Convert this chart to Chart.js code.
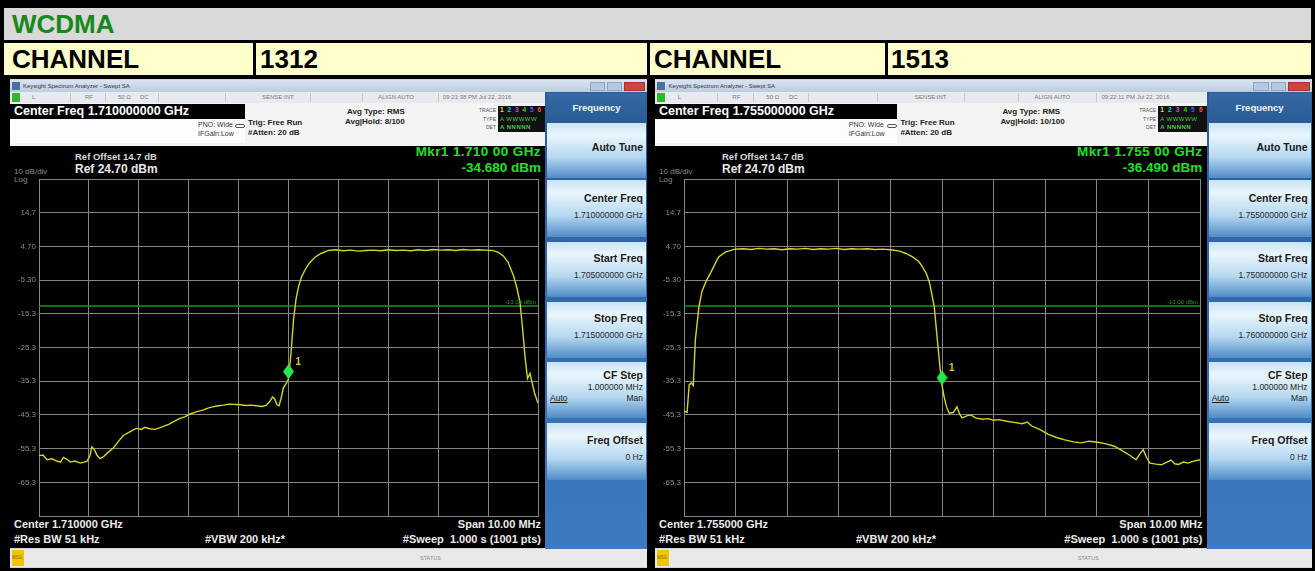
<!DOCTYPE html>
<html>
<head>
<meta charset="utf-8">
<title>WCDMA</title>
<script src="https://cdn.jsdelivr.net/npm/chart.js@4"></script>
<style>
  body { margin:0; width:1315px; height:571px; background:#000; position:relative; overflow:hidden;
         font-family:"Liberation Sans", Arial, sans-serif; }
  .box { position:absolute; white-space:nowrap; box-sizing:border-box; }
  .big { font-weight:bold; font-size:26px; line-height:32px; height:32px; color:#000; }
  canvas { position:absolute; }
</style>
</head>
<body>
<div class="box big" style="left:4px;top:8px;width:1307px;background:#d9d9d9;color:#16881b;padding-left:8px;">WCDMA</div>
<div class="box big" style="left:4px;top:43px;width:249px;background:#ffffcc;padding-left:8px;">CHANNEL</div>
<div class="box big" style="left:256px;top:43px;width:391px;background:#ffffcc;padding-left:4px;">1312</div>
<div class="box big" style="left:650px;top:43px;width:235px;background:#ffffcc;padding-left:4px;">CHANNEL</div>
<div class="box big" style="left:888px;top:43px;width:423px;background:#ffffcc;padding-left:3px;">1513</div>

<script>
// measured trace, channel 1312 (MHz / dBm)
const ch1312Freq = [1705.00, 1705.08, 1705.16, 1705.26, 1705.34, 1705.43, 1705.49, 1705.55, 1705.63, 1705.72,
  1705.83, 1705.96, 1706.02, 1706.06, 1706.11, 1706.16, 1706.22, 1706.30, 1706.40, 1706.49,
  1706.60, 1706.69, 1706.80, 1706.88, 1706.95, 1707.05, 1707.12, 1707.22, 1707.32, 1707.40,
  1707.48, 1707.60, 1707.70, 1707.81, 1707.92, 1708.02, 1708.15, 1708.28, 1708.40, 1708.48,
  1708.60, 1708.70, 1708.81, 1708.95, 1709.05, 1709.14, 1709.25, 1709.35, 1709.47, 1709.55,
  1709.62, 1709.68, 1709.72, 1709.77, 1709.81, 1709.85, 1709.90, 1709.95, 1710.00, 1710.05,
  1710.10, 1710.15, 1710.20, 1710.26, 1710.33, 1710.42, 1710.53, 1710.65, 1710.80, 1710.95,
  1711.10, 1711.25, 1711.40, 1711.55, 1711.70, 1711.85, 1712.00, 1712.15, 1712.30, 1712.45,
  1712.60, 1712.75, 1712.90, 1713.05, 1713.20, 1713.35, 1713.50, 1713.65, 1713.80, 1713.95,
  1714.08, 1714.20, 1714.31, 1714.40, 1714.51, 1714.58, 1714.64, 1714.69, 1714.74, 1714.79,
  1714.84, 1714.87, 1714.93, 1715.00];
const ch1312Level = [-57.4, -57.2, -58.6, -58.3, -58.9, -59.3, -57.9, -58.4, -59.3, -59.0,
  -59.6, -59.1, -57.5, -54.8, -55.6, -57.2, -58.3, -57.6, -56.2, -55.1,
  -53.0, -51.4, -50.5, -49.8, -49.3, -49.6, -49.0, -49.4, -49.6, -49.2,
  -48.8, -48.1, -47.3, -46.4, -45.9, -45.1, -44.4, -43.9, -43.2, -42.9,
  -42.6, -42.4, -42.1, -42.2, -42.3, -42.5, -42.4, -42.6, -42.8, -42.5,
  -41.4, -40.0, -40.5, -42.3, -42.6, -40.5, -37.2, -36.0, -34.68, -27.0,
  -17.2, -11.0, -7.3, -4.4, -2.3, -0.2, 1.5, 2.6, 3.5, 3.7,
  3.4, 3.6, 3.3, 3.5, 3.6, 3.4, 3.7, 3.5, 3.6, 3.4,
  3.7, 3.5, 3.8, 3.6, 3.7, 3.5, 3.8, 3.6, 3.7, 3.6,
  3.5, 3.0, 1.8, 0.0, -4.0, -7.8, -12.0, -19.5, -28.0, -34.5,
  -33.0, -35.0, -38.8, -41.8];

// measured trace, channel 1513 (MHz / dBm)
const ch1513Freq = [1750.00, 1750.06, 1750.10, 1750.14, 1750.18, 1750.22, 1750.29, 1750.35, 1750.43, 1750.52,
  1750.67, 1750.80, 1750.99, 1751.15, 1751.30, 1751.45, 1751.60, 1751.75, 1751.90, 1752.05,
  1752.20, 1752.35, 1752.50, 1752.65, 1752.80, 1752.95, 1753.10, 1753.25, 1753.40, 1753.55,
  1753.70, 1753.85, 1754.00, 1754.18, 1754.30, 1754.43, 1754.55, 1754.62, 1754.70, 1754.76,
  1754.85, 1754.91, 1754.96, 1755.00, 1755.04, 1755.09, 1755.14, 1755.22, 1755.29, 1755.34,
  1755.39, 1755.48, 1755.56, 1755.65, 1755.78, 1755.90, 1756.00, 1756.11, 1756.25, 1756.43,
  1756.55, 1756.65, 1756.74, 1756.90, 1757.06, 1757.22, 1757.38, 1757.55, 1757.70, 1757.85,
  1758.02, 1758.18, 1758.34, 1758.50, 1758.66, 1758.76, 1758.84, 1758.90, 1758.96, 1759.03,
  1759.15, 1759.25, 1759.35, 1759.44, 1759.51, 1759.58, 1759.68, 1759.77, 1759.88, 1760.00];
const ch1513Level = [-44.2, -44.5, -36.4, -35.8, -36.6, -23.0, -13.2, -8.5, -5.6, -3.0,
  1.6, 3.0, 3.9, 4.0, 3.8, 4.1, 3.9, 4.0, 3.7, 4.0,
  3.9, 4.1, 3.8, 4.0, 3.9, 4.1, 3.8, 4.0, 3.9, 4.0,
  3.8, 3.9, 3.7, 3.3, 2.6, 1.6, 0.2, -1.3, -3.5, -6.2,
  -13.2, -23.1, -31.0, -36.49, -39.9, -43.0, -44.8, -44.6, -42.9, -45.0,
  -46.2, -45.6, -45.3, -46.2, -46.6, -46.4, -46.9, -46.7, -47.2, -47.6,
  -47.9, -47.4, -48.6, -49.7, -51.1, -52.0, -52.7, -53.3, -53.6, -53.1,
  -53.4, -53.9, -54.6, -56.0, -57.5, -58.6, -56.8, -55.6, -57.8, -59.6,
  -59.9, -60.1, -59.4, -58.7, -59.8, -60.0, -59.3, -59.6, -59.0, -58.6];

const spanStart = [1705, 1750];
const spanStop = [1715, 1760];
const markerFreq = [1710.00, 1755.00];
const markerLevel = [-34.68, -36.49];
const displayLine = -13.0;
const refLevel = 24.7;
const bottomLevel = -75.3;
const yTickLabels = ['', '-65.3', '-55.3', '-45.3', '-35.3', '-25.3', '-15.3', '-5.30', '4.70', '14.7', ''];

const panels = [
  { x0: 10, k: 1, id: 'c1312', freq: ch1312Freq, level: ch1312Level, n: 0,
    cf: '1.710000000 GHz', start: '1.705000000 GHz', stop: '1.715000000 GHz',
    time: '09:21:38 PM Jul 22, 2016', hold: '8/100', mkr: '1.710 00 GHz', mkrVal: '-34.680 dBm', center: '1.710000 GHz' },
  { x0: 655, k: 1.031, id: 'c1513', freq: ch1513Freq, level: ch1513Level, n: 1,
    cf: '1.755000000 GHz', start: '1.750000000 GHz', stop: '1.760000000 GHz',
    time: '09:22:11 PM Jul 22, 2016', hold: '10/100', mkr: '1.755 00 GHz', mkrVal: '-36.490 dBm', center: '1.755000 GHz' }
];

const FONT = '"Liberation Sans", Arial, sans-serif';

function buildPanel(p) {
  const X = v => (p.x0 + v * p.k).toFixed(1) + 'px';
  const W = v => (v * p.k).toFixed(1) + 'px';
  let h = '';
  const add = (css, txt) => { h += '<div class="box" style="' + css + '">' + (txt || '') + '</div>'; };

  // window frame, title bar and status strip
  add(`left:${X(0)};top:79px;width:${W(637)};height:489px;background:#cdd6e0;`);
  add(`left:${X(0)};top:80px;width:${W(637)};height:12px;background:linear-gradient(#d9e4f0,#bccde0);`);
  add(`left:${X(2)};top:82px;width:8px;height:8px;background:#4d6f9c;`);
  add(`left:${X(13)};top:80px;font-size:6px;line-height:12px;color:#333;`, 'Keysight Spectrum Analyzer - Swept SA');
  add(`left:${X(580)};top:82px;width:${W(15)};height:9px;background:#b4cae2;border:1px solid #8ea6c0;`);
  add(`left:${X(597)};top:82px;width:${W(15)};height:9px;background:#b4cae2;border:1px solid #8ea6c0;`);
  add(`left:${X(614)};top:82px;width:${W(21)};height:9px;background:#c9463d;border:1px solid #a33;`);
  add(`left:${X(0)};top:92px;width:${W(535)};height:11px;background:#e7ebef;`);
  add(`left:${X(2)};top:93px;width:8px;height:9px;background:#2db82d;`);
  const st = [[22, 'L'], [75, 'RF'], [108, '50 Ω'], [130, 'DC'], [252, 'SENSE:INT'], [368, 'ALIGN AUTO'], [433, p.time]];
  st.forEach(s => add(`left:${X(s[0])};top:92px;font-size:6px;line-height:11px;color:#7a7a7a;`, s[1]));
  [60, 95, 148, 215, 300, 352, 428].forEach(v => add(`left:${X(v)};top:93px;width:1px;height:9px;background:#c5cbd2;`));

  // settings header
  add(`left:${X(0)};top:103px;width:${W(535)};height:43px;background:#f4f4f4;`);
  add(`left:${X(0)};top:104px;width:${W(235)};height:15px;background:#000;color:#fff;font-weight:bold;font-size:12.5px;line-height:15px;padding-left:4px;`, 'Center Freq ' + p.cf);
  add(`left:${X(0)};top:119px;width:${W(235)};height:24px;background:#fdfdfd;`);
  add(`left:${X(188)};top:120px;font-size:7px;line-height:9px;color:#333;`, 'PNO: Wide');
  add(`left:${X(188)};top:129px;font-size:7px;line-height:9px;color:#333;`, 'IFGain:Low');
  add(`left:${X(225)};top:124px;width:10px;height:4px;border:1px solid #555;border-radius:2px;`);
  add(`left:${X(238)};top:118px;font-size:8px;font-weight:bold;line-height:10px;color:#222;`, 'Trig: Free Run');
  add(`left:${X(238)};top:128px;font-size:8px;font-weight:bold;line-height:10px;color:#222;`, '#Atten: 20 dB');
  add(`left:${X(337)};top:107px;font-size:8px;font-weight:bold;line-height:10px;color:#222;`, 'Avg Type: RMS');
  add(`left:${X(335)};top:117px;font-size:8px;font-weight:bold;line-height:10px;color:#222;`, 'Avg|Hold: ' + p.hold);
  add(`left:${X(458)};top:106px;width:${W(28)};text-align:right;font-size:5px;line-height:8.5px;color:#555;`, 'TRACE<br>TYPE<br>DET');
  add(`left:${X(488)};top:106px;width:${W(47)};height:26px;background:#111;`);
  const tc = ['#e8e800', '#00d8d8', '#e040e0', '#30d030', '#5060ff', '#ff5050'];
  tc.forEach((c, i) => add(`left:${X(490 + i * 7.5)};top:106px;font-size:6.5px;font-weight:bold;line-height:8.5px;color:${c};`, String(i + 1)));
  add(`left:${X(490)};top:115px;font-size:6px;line-height:8.5px;color:#48c848;letter-spacing:0.5px;`, 'A WWWWW');
  add(`left:${X(490)};top:123px;font-size:6px;font-weight:bold;line-height:8.5px;color:#48c848;letter-spacing:0.5px;`, 'A NNNNN');

  // black measurement area with annotations
  add(`left:${X(0)};top:146px;width:${W(535)};height:402px;background:#000;`);
  add(`left:${X(65)};top:151px;font-size:9.5px;font-weight:bold;line-height:11px;color:#d8d8d8;`, 'Ref Offset 14.7 dB');
  add(`left:${X(65)};top:163px;font-size:12px;font-weight:bold;line-height:13px;color:#e8e8e8;`, 'Ref 24.70 dBm');
  add(`left:${X(4)};top:167px;font-size:8px;line-height:9px;color:#8a8a8a;`, '10 dB/div');
  add(`left:${X(4)};top:175px;font-size:8px;line-height:9px;color:#8a8a8a;`, 'Log');
  add(`left:${X(330)};top:144px;width:${W(201)};text-align:right;font-size:13.5px;font-weight:bold;line-height:16px;color:#22e02a;letter-spacing:0.4px;`, 'Mkr1 ' + p.mkr);
  add(`left:${X(330)};top:160px;width:${W(201)};text-align:right;font-size:13.5px;font-weight:bold;line-height:16px;color:#22e02a;`, p.mkrVal);
  add(`left:${X(4)};top:518px;font-size:11px;font-weight:bold;line-height:13px;color:#ececec;`, 'Center ' + p.center);
  add(`left:${X(4)};top:533px;font-size:11px;font-weight:bold;line-height:13px;color:#ececec;`, '#Res BW 51 kHz');
  add(`left:${X(195)};top:533px;font-size:11px;font-weight:bold;line-height:13px;color:#ececec;`, '#VBW 200 kHz*');
  add(`left:${X(300)};top:518px;width:${W(231)};text-align:right;font-size:11px;font-weight:bold;line-height:13px;color:#ececec;`, 'Span 10.00 MHz');
  add(`left:${X(300)};top:533px;width:${W(231)};text-align:right;font-size:11px;font-weight:bold;line-height:13px;color:#ececec;white-space:pre;`, '#Sweep  1.000 s (1001 pts)');

  // softkey menu
  add(`left:${X(535)};top:92px;width:${W(102)};height:457px;background:linear-gradient(#2b5c95,#3d7bc0);`);
  add(`left:${X(537)};top:93px;width:${W(99)};height:29px;background:linear-gradient(#3569a6,#2a5b94);color:#f0f4f8;font-size:9.5px;font-weight:bold;line-height:29px;text-align:center;`, 'Frequency');
  const keys = [
    { top: 123, h: 55, t: 'Auto Tune', ty: 141 },
    { top: 180, h: 57, t: 'Center Freq', ty: 192, v: p.cf, vy: 209 },
    { top: 242, h: 55, t: 'Start Freq', ty: 252, v: p.start, vy: 269 },
    { top: 302, h: 56, t: 'Stop Freq', ty: 312, v: p.stop, vy: 329 },
    { top: 362, h: 56, t: 'CF Step', ty: 369, v: '1.000000 MHz', vy: 381 },
    { top: 423, h: 57, t: 'Freq Offset', ty: 434, v: '0 Hz', vy: 451 }
  ];
  keys.forEach(b => {
    add(`left:${X(537)};top:${b.top}px;width:${W(99)};height:${b.h}px;background:linear-gradient(#c9e2f4 0%,#eaf6fd 22%,#b6d8f0 62%,#4f8cc6 100%);`);
    add(`left:${X(537)};top:${b.ty}px;width:${W(96)};text-align:right;font-size:10.5px;font-weight:bold;line-height:12px;color:#1b1b1b;`, b.t);
    if (b.v) add(`left:${X(537)};top:${b.vy}px;width:${W(96)};text-align:right;font-size:8.5px;line-height:12px;color:#262626;`, b.v);
  });
  add(`left:${X(540)};top:392px;font-size:8.5px;line-height:12px;color:#1b1b1b;text-decoration:underline;`, 'Auto');
  add(`left:${X(537)};top:392px;width:${W(96)};text-align:right;font-size:8.5px;line-height:12px;color:#1b1b1b;`, 'Man');

  // bottom status line
  add(`left:${X(0)};top:549px;width:${W(637)};height:18px;background:#e9e9e9;`);
  add(`left:${X(2)};top:550px;width:${W(12)};height:16px;background:#f0c400;font-size:4.5px;line-height:16px;color:#8a6a00;`, 'MSG');
  add(`left:${X(410)};top:549px;font-size:5.5px;line-height:18px;color:#8a8a8a;`, 'STATUS');

  h += `<canvas id="${p.id}" width="${Math.round(535 * p.k)}" height="402" style="left:${p.x0}px;top:146px;"></canvas>`;
  document.body.insertAdjacentHTML('beforeend', h);
}

// Keysight draws the marker diamond with its lower tip on the trace point
function diamond() {
  const c = document.createElement('canvas');
  c.width = 11; c.height = 30;
  const g = c.getContext('2d');
  g.fillStyle = '#27e84a';
  g.beginPath();
  g.moveTo(5.5, 0); g.lineTo(11, 7.5); g.lineTo(5.5, 15); g.lineTo(0, 7.5);
  g.closePath(); g.fill();
  return c;
}

const saLabels = {
  id: 'saLabels',
  afterDatasetsDraw(chart, args, opts) {
    const { ctx, scales: { x, y } } = chart;
    ctx.save();
    ctx.font = 'bold 10px ' + FONT;
    ctx.fillStyle = '#cfcf3a';
    ctx.textBaseline = 'middle';
    ctx.fillText('1', x.getPixelForValue(opts.mf) + 7, y.getPixelForValue(opts.ml) - 17);
    ctx.font = '6px ' + FONT;
    ctx.fillStyle = '#229a22';
    ctx.textAlign = 'right';
    ctx.textBaseline = 'bottom';
    ctx.fillText('-13.00 dBm', x.right - 2, y.getPixelForValue(displayLine) - 1);
    ctx.restore();
  }
};

function makeChart(p) {
  const n = p.n;
  const grid = { color: '#858585', lineWidth: 1, drawTicks: false };
  new Chart(document.getElementById(p.id), {
    type: 'line',
    data: {
      datasets: [
        {
          data: [{ x: markerFreq[n], y: markerLevel[n] }],
          showLine: false, pointStyle: diamond(), pointRadius: 6
        },
        {
          data: p.freq.map((f, i) => ({ x: f, y: p.level[i] })),
          borderColor: '#d4d42a', borderWidth: 1.4, pointRadius: 0, tension: 0
        },
        {
          data: [{ x: spanStart[n], y: displayLine }, { x: spanStop[n], y: displayLine }],
          borderColor: '#0b9a12', borderWidth: 1.5, pointRadius: 0
        }
      ]
    },
    options: {
      responsive: false,
      animation: false,
      devicePixelRatio: 1,
      layout: { padding: { left: 0, right: 5, top: 33, bottom: 32 } },
      plugins: { legend: { display: false }, tooltip: { enabled: false },
                 saLabels: { mf: markerFreq[n], ml: markerLevel[n] } },
      scales: {
        x: {
          type: 'linear', min: spanStart[n], max: spanStop[n],
          ticks: { display: false, stepSize: 1 },
          grid: grid, border: { color: '#858585' },
          afterFit: s => { s.height = 0; }
        },
        y: {
          min: bottomLevel, max: refLevel,
          ticks: { stepSize: 10, color: '#8a8a8a', padding: 3, font: { size: 8, family: FONT },
                   callback: (v, i) => yTickLabels[i] },
          grid: grid, border: { color: '#858585' },
          afterFit: s => { s.width = Math.round(28.5 * p.k); }
        }
      }
    },
    plugins: [saLabels]
  });
}

panels.forEach(p => { buildPanel(p); makeChart(p); });
</script>
</body>
</html>
